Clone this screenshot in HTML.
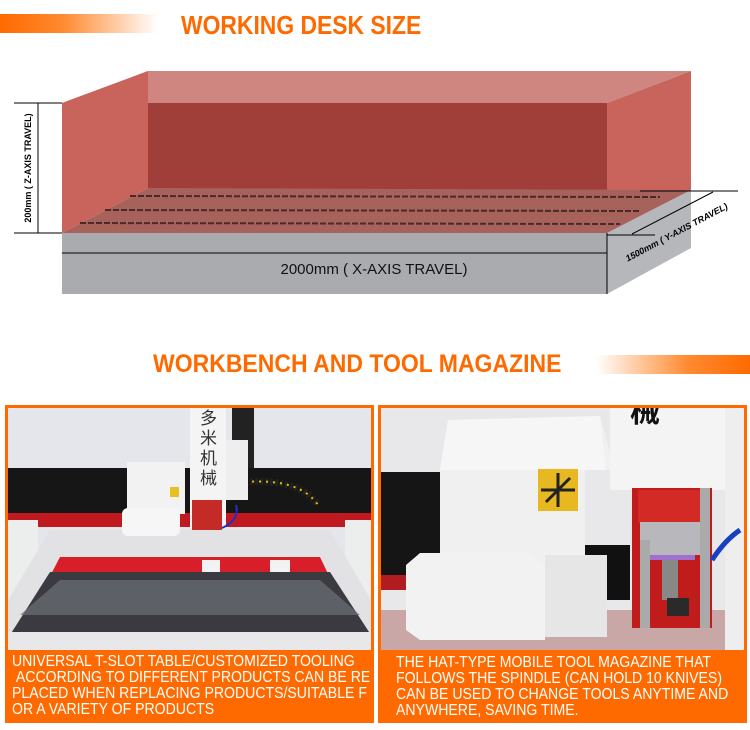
<!DOCTYPE html>
<html><head><meta charset="utf-8"><style>
html,body{margin:0;padding:0;background:#fff;}
body{width:750px;height:730px;position:relative;overflow:hidden;font-family:"Liberation Sans",sans-serif;}
.t{position:absolute;color:#ff6a00;font-weight:bold;font-family:"Liberation Sans",sans-serif;white-space:nowrap;transform-origin:0 0;}
.cap{position:absolute;color:#fff;font-family:"Liberation Sans",sans-serif;font-size:16px;line-height:16px;white-space:nowrap;transform-origin:0 0;transform:scaleX(0.88);}
</style></head><body>
<div style="position:absolute;left:0;top:14px;width:158px;height:19px;background:linear-gradient(90deg,#ff6a00 0%,#ff8a30 40%,#fff 100%)"></div>
<div class="t" style="left:181px;top:10px;font-size:26px;transform:scaleX(0.88);">WORKING DESK SIZE</div>
<svg width="750" height="730" style="position:absolute;left:0;top:0" xmlns="http://www.w3.org/2000/svg">
 <defs><clipPath id="rc"><rect x="381" y="408" width="363" height="242"/></clipPath></defs>
 <polygon points="62,103 148,71 691,71 607,103" fill="#cf8680"/>
 <polygon points="62,103 148,71 148,188 62,233" fill="#c8645c"/>
 <rect x="148" y="103" width="459" height="87" fill="#a03f3a"/>
 <polygon points="607,103 691,71 691,190 607,233" fill="#c8645c"/>
 <polygon points="62,233 148,188 691,190 607,233" fill="#a8625c"/>
 <g stroke="#4a2a28" stroke-width="2" stroke-dasharray="6,2">
  <line x1="130" y1="196" x2="660" y2="197"/>
  <line x1="105" y1="210" x2="640" y2="211"/>
  <line x1="80" y1="223" x2="620" y2="224"/>
 </g>
 <polygon points="62,233 607,233 607,294 62,294" fill="#a9abaf"/>
 <polygon points="607,233 691,190 691,248 607,294" fill="#b5b7ba"/>
 <line x1="62" y1="253" x2="607" y2="253" stroke="#000" stroke-width="1"/>
 <line x1="607" y1="233" x2="607" y2="294" stroke="#000" stroke-width="1"/>
 <line x1="38" y1="103" x2="38" y2="233" stroke="#000"/>
 <line x1="14" y1="103" x2="62" y2="103" stroke="#000"/>
 <line x1="14" y1="233" x2="62" y2="233" stroke="#000"/>
 <text transform="translate(31,168) rotate(-90)" text-anchor="middle" font-family="Liberation Sans" font-weight="bold" font-size="9" fill="#000">200mm  ( Z-AXIS TRAVEL)</text>
 <text x="374" y="274" text-anchor="middle" font-family="Liberation Sans" font-size="15" fill="#111">2000mm  ( X-AXIS TRAVEL)</text>
 <line x1="607" y1="235" x2="655" y2="235" stroke="#000"/>
 <line x1="640" y1="191" x2="738" y2="191" stroke="#000"/>
 <line x1="632" y1="234" x2="713" y2="192" stroke="#000"/>
 <text transform="translate(678,235) rotate(-28)" text-anchor="middle" font-family="Liberation Sans" font-weight="bold" font-style="italic" font-size="9" fill="#000">1500mm  ( Y-AXIS TRAVEL)</text>

 <rect x="5" y="405" width="369" height="318" fill="#ff6a00"/>
 <rect x="8" y="408" width="363" height="242" fill="#e4e6ec"/>
 <rect x="8" y="468" width="363" height="45" fill="#161616"/>
 <rect x="8" y="513" width="363" height="14" fill="#c01a20"/>
 <rect x="8" y="520" width="30" height="110" fill="#eceded"/>
 <rect x="345" y="520" width="26" height="110" fill="#eceded"/>
 <polygon points="50,530 330,530 371,600 371,650 8,650 8,600" fill="#e2e2e4"/>
 <polygon points="60,557 320,557 355,630 22,630" fill="#d81e28"/>
 <polygon points="50,572 330,572 371,635 10,635" fill="#3a3a40"/>
 <polygon points="60,580 320,580 360,615 20,615" fill="#6e7078" opacity="0.7"/>
 <rect x="8" y="632" width="363" height="18" fill="#e8e8ea"/>
 <rect x="202" y="560" width="18" height="12" fill="#f2f2f2"/>
 <rect x="270" y="560" width="20" height="12" fill="#f2f2f2"/>
 <path d="M245,482 Q300,478 318,505" stroke="#222" stroke-width="7" fill="none" stroke-dasharray="3,2"/>
 <path d="M245,482 Q300,478 318,505" stroke="#e8c000" stroke-width="2" fill="none" stroke-dasharray="2,5"/>
 <rect x="232" y="408" width="22" height="60" fill="#222"/>
 <rect x="190" y="408" width="36" height="120" fill="#f4f4f4"/>
 <rect x="226" y="440" width="22" height="60" fill="#eeeeee"/>
 <rect x="192" y="500" width="30" height="30" fill="#c42a26"/>
 <text font-family="Noto Sans CJK SC, sans-serif" font-size="17" fill="#333" x="200" y="424">多</text>
 <text font-family="Noto Sans CJK SC, sans-serif" font-size="17" fill="#333" x="200" y="444">米</text>
 <text font-family="Noto Sans CJK SC, sans-serif" font-size="17" fill="#333" x="200" y="464">机</text>
 <text font-family="Noto Sans CJK SC, sans-serif" font-size="17" fill="#333" x="200" y="484">械</text>
 <rect x="127" y="462" width="58" height="52" fill="#f2f2f2"/>
 <rect x="122" y="508" width="58" height="28" rx="6" fill="#f6f6f6"/>
 <rect x="170" y="487" width="9" height="10" fill="#e8c020"/>
 <path d="M236,505 Q240,520 222,528" stroke="#2030c0" stroke-width="2" fill="none"/>

 <rect x="378" y="405" width="369" height="318" fill="#ff6a00"/>
 <g clip-path="url(#rc)">
 <rect x="381" y="408" width="363" height="242" fill="#e8e8ea"/>
 <rect x="381" y="472" width="60" height="103" fill="#151515"/>
 <rect x="381" y="575" width="60" height="15" fill="#b01c20"/>
 <rect x="381" y="610" width="363" height="40" fill="#c9a7a6"/>
 <rect x="580" y="545" width="50" height="55" fill="#111"/>
 <polygon points="440,470 448,420 600,416 615,470 585,470 585,565 440,565" fill="#f0f0f0"/>
 <polygon points="440,470 448,420 600,416 606,470" fill="#f6f6f6"/>
 <rect x="538" y="469" width="40" height="42" fill="#e8b820"/>
 <g stroke="#222" stroke-width="3"><line x1="558" y1="473" x2="558" y2="507"/><line x1="541" y1="490" x2="575" y2="490"/><line x1="546" y1="502" x2="570" y2="478"/></g>
 <polygon points="406,565 420,553 530,553 545,565 545,640 420,640 406,630" fill="#f2f2f2"/>
 <rect x="545" y="555" width="62" height="82" fill="#e6e6e6"/>
 <rect x="610" y="408" width="118" height="82" fill="#f4f4f4"/>
 <text font-family="Noto Sans CJK SC, sans-serif" font-size="30" font-weight="bold" fill="#111" x="630" y="422">械</text>
 <rect x="725" y="408" width="19" height="242" fill="#eeeeee"/>
 <rect x="632" y="488" width="80" height="140" fill="#c01c1c"/>
 <rect x="638" y="490" width="70" height="33" fill="#d42a26"/>
 <rect x="640" y="522" width="65" height="33" fill="#b8b8bc"/>
 <rect x="650" y="555" width="45" height="5" fill="#a070d0"/>
 <rect x="640" y="540" width="10" height="88" fill="#aaaaaa"/>
 <rect x="700" y="488" width="10" height="140" fill="#aaaaaa"/>
 <rect x="662" y="560" width="16" height="40" fill="#888"/>
 <rect x="667" y="598" width="22" height="18" fill="#2a2a2a"/>
 <path d="M712,560 Q725,540 740,530" stroke="#1840c0" stroke-width="5" fill="none"/>
 </g>
</svg>
<div class="cap" style="left:12px;top:654px;">UNIVERSAL T-SLOT TABLE/CUSTOMIZED TOOLING<br>&nbsp;ACCORDING TO DIFFERENT PRODUCTS CAN BE RE<br>PLACED WHEN REPLACING PRODUCTS/SUITABLE F<br>OR A VARIETY OF PRODUCTS</div>
<div class="cap" style="left:396px;top:655px;">THE HAT-TYPE MOBILE TOOL MAGAZINE THAT<br>FOLLOWS THE SPINDLE (CAN HOLD 10 KNIVES)<br>CAN BE USED TO CHANGE TOOLS ANYTIME AND<br>ANYWHERE, SAVING TIME.</div>
<div class="t" style="left:153px;top:350px;font-size:25px;transform:scaleX(0.92);">WORKBENCH AND TOOL MAGAZINE</div>
<div style="position:absolute;left:596px;top:355px;width:154px;height:19px;background:linear-gradient(90deg,#fff 0%,#ff8a30 60%,#ff6a00 100%)"></div>
</body></html>
